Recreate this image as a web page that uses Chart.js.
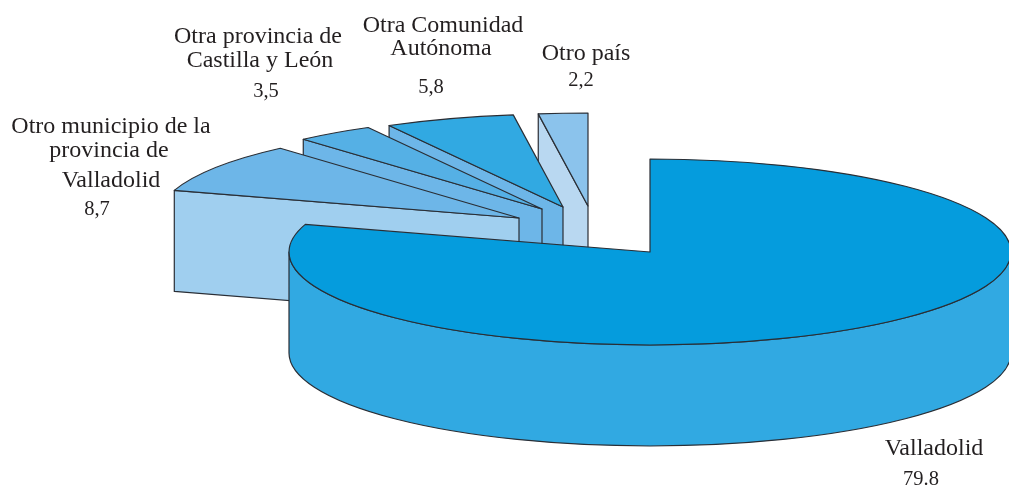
<!DOCTYPE html>
<html lang="es">
<head>
<meta charset="utf-8">
<style>html,body{margin:0;padding:0;background:#fff;overflow:hidden}canvas{display:block}</style>
<script src="https://cdn.jsdelivr.net/npm/chart.js@4"></script>
</head>
<body>
<canvas id="c" width="1009" height="486" style="width:1009px;height:486px"></canvas>
<script>
const categories = ['Valladolid','Otro municipio de la provincia de Valladolid','Otra provincia de Castilla y León','Otra Comunidad Autónoma','Otro país'];
const values = [79.8, 8.7, 3.5, 5.8, 2.2];
const valueLabels = ['79.8','8,7','3,5','5,8','2,2'];
const labelLines = [['Valladolid'],['Otro municipio de la','provincia de','Valladolid'],['Otra provincia de','Castilla y León'],['Otra Comunidad','Autónoma'],['Otro país']];

const topColors = ['#059CDD','#6DB6E8','#55B0E5','#31A9E2','#8BC3EC'];
const sideColors = ['#31A9E2','#A0CFEF','#6DB6E8','#6DB6E8','#B9D8F1'];
const outline = '#2a2e35';
const textColor = '#231F20';

// Perspective of the drawing: ellipse radii, centre, depth and explode shift of each slice
const view = {cx:650, cy:252, rx:361, ry:93, depth:101};
const explodeX = [0,-131,-108,-87,-62];
const explodeY = [0,-34,-43,-45,-46];
const paintOrder = [4,3,2,1,0];

// Text anchors: [centre x, baseline y] for each line, then for the value
const lineAnchors = [[[934,455]],[[111,133],[109,157],[111,187]],[[258,43],[260,67]],[[443,32],[441,55]],[[586,60]]];
const valueAnchors = [[921,485],[97,215],[266,97],[431,93],[581,86]];

const solidPie = {
  id:'solidPie',
  beforeDatasetsDraw(chart){
    const ctx = chart.ctx, els = chart.getDatasetMeta(0).data;
    const apply = (el,i,extra=0) => {
      const sx = view.rx/el.outerRadius, sy = view.ry/el.outerRadius;
      ctx.transform(sx,0,0,sy, view.cx+explodeX[i]-sx*el.x, view.cy+explodeY[i]+extra-sy*el.y);
    };
    const project = (el,i,a,r,extra=0) => ({
      x: view.cx+explodeX[i]+view.rx*(r/el.outerRadius)*Math.cos(a),
      y: view.cy+explodeY[i]+extra+view.ry*(r/el.outerRadius)*Math.sin(a)
    });
    const strokeNow = () => {ctx.strokeStyle=outline;ctx.lineWidth=1.2;ctx.lineJoin='round';ctx.stroke();};
    const radialWall = (el,i,a) => {
      const R = el.outerRadius, p = project(el,i,a,R), t = project(el,i,a,0);
      ctx.beginPath();
      ctx.moveTo(p.x,p.y);ctx.lineTo(t.x,t.y);ctx.lineTo(t.x,t.y+view.depth);ctx.lineTo(p.x,p.y+view.depth);ctx.closePath();
      ctx.fillStyle = sideColors[i];ctx.fill();strokeNow();
    };
    for (const i of paintOrder){
      const el = els[i], a0 = el.startAngle, a1 = el.endAngle, R = el.outerRadius;
      // side walls that face the viewer
      if (-Math.cos(a0) > 1e-6) radialWall(el,i,a0);
      if (Math.cos(a1) > 1e-6) radialWall(el,i,a1);
      // outer curved wall (lower half of the ellipse)
      const from = Math.max(a0,0), to = Math.min(a1,Math.PI);
      if (to > from){
        ctx.save();apply(el,i);
        ctx.beginPath();ctx.arc(el.x,el.y,R,from,to);
        ctx.restore();
        ctx.save();apply(el,i,view.depth);
        ctx.arc(el.x,el.y,R,to,from,true);
        ctx.restore();
        ctx.closePath();
        ctx.fillStyle = sideColors[i];ctx.fill();strokeNow();
      }
      // top face: the library's own arc element, under the flattening transform
      ctx.save();apply(el,i);el.draw(ctx);ctx.restore();
      ctx.save();apply(el,i);
      ctx.beginPath();ctx.moveTo(el.x,el.y);ctx.arc(el.x,el.y,R,a0,a1);ctx.closePath();
      ctx.restore();
      strokeNow();
    }
    return false;
  },
  afterDraw(chart){
    const ctx = chart.ctx;
    ctx.save();
    ctx.fillStyle = textColor;ctx.textAlign='center';ctx.textBaseline='alphabetic';
    ctx.font = '24px "Liberation Serif"';
    labelLines.forEach((lines,i)=>lines.forEach((s,j)=>ctx.fillText(s,lineAnchors[i][j][0],lineAnchors[i][j][1])));
    ctx.font = '20.5px "Liberation Serif"';
    valueLabels.forEach((s,i)=>ctx.fillText(s,valueAnchors[i][0],valueAnchors[i][1]));
    ctx.restore();
  }
};

new Chart(document.getElementById('c'),{
  type:'pie',
  data:{labels:categories,datasets:[{data:values,backgroundColor:topColors,borderWidth:0}]},
  options:{
    responsive:false,animation:false,events:[],
    layout:{padding:0},
    plugins:{legend:{display:false},tooltip:{enabled:false},title:{display:false}}
  },
  plugins:[solidPie]
});
</script>
</body>
</html>
